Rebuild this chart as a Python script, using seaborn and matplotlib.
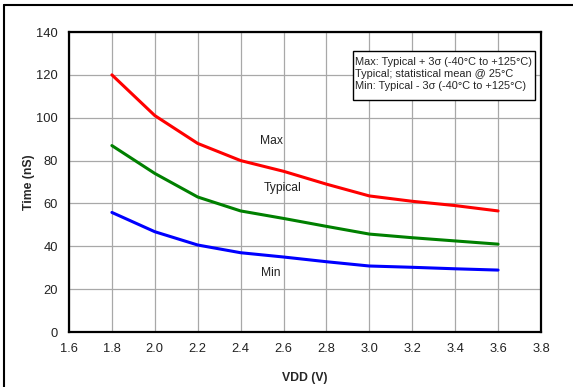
import pandas as pd
import matplotlib
matplotlib.use('Agg')
import matplotlib.pyplot as plt
from matplotlib.lines import Line2D
from matplotlib.patches import Rectangle
import seaborn as sns

# Data
vdd = [1.8, 2.0, 2.2, 2.4, 2.6, 2.8, 3.0, 3.2, 3.4, 3.6]
max_ns = [120, 101, 88, 80, 75, 69, 63.5, 61, 59, 56.5]
typical_ns = [87, 74, 63, 56.5, 53, 49.3, 45.7, 44, 42.5, 41]
min_ns = [55.8, 46.8, 40.6, 37, 35, 32.8, 30.8, 30.2, 29.5, 28.9]
series_names = ['Max', 'Typical', 'Min']
colors = ['#ff0000', '#008000', '#0000ff']
note_lines = ['Max: Typical + 3\u03c3 (-40\u00b0C to +125\u00b0C)',
              'Typical; statistical mean @ 25\u00b0C',
              'Min: Typical - 3\u03c3 (-40\u00b0C to +125\u00b0C)']

df = pd.DataFrame({
    'vdd': vdd * 3,
    'time': max_ns + typical_ns + min_ns,
    'series': [s for s in series_names for _ in vdd],
})

sns.set_style('white')
plt.rcParams['font.family'] = ['Liberation Sans', 'DejaVu Sans']

fig = plt.figure(figsize=(5.73, 3.87), dpi=100)
ax = fig.add_axes([0.1204, 0.1421, 0.8237, 0.7752])

sns.lineplot(data=df, x='vdd', y='time', hue='series', hue_order=series_names,
             palette=colors, linewidth=2.2, legend=False, ax=ax)

ax.set_xlim(1.6, 3.8)
ax.set_ylim(0, 140)
ax.set_xticks([1.6 + 0.2 * i for i in range(12)])
ax.set_xticklabels([f'{1.6 + 0.2 * i:.1f}' for i in range(12)])
ax.set_yticks(range(0, 141, 20))
ax.grid(True, color='#a8a8a8', linewidth=0.9)
ax.set_axisbelow(True)
ax.tick_params(length=0, labelsize=9.3, colors='#222222')
ax.tick_params(axis='x', pad=8)
ax.tick_params(axis='y', pad=8)
for sp in ax.spines.values():
    sp.set_color('black')
    sp.set_linewidth(1.6)

ax.set_xlabel('VDD (V)', fontsize=8.8, fontweight='bold', labelpad=12)
ax.set_ylabel('Time (nS)', fontsize=8.8, fontweight='bold', labelpad=0.5)

# curve labels
ax.text(2.546, 89, 'Max', fontsize=8.7, ha='center', va='center', color='#222222')
ax.text(2.598, 67, 'Typical', fontsize=8.7, ha='center', va='center', color='#222222')
ax.text(2.542, 27.5, 'Min', fontsize=8.7, ha='center', va='center', color='#222222')

# note box
ax.add_patch(Rectangle((0.602, 0.773), 0.386, 0.163, transform=ax.transAxes,
                       facecolor='white', edgecolor='black', linewidth=1.0, zorder=5))
ax.text(0.607, 0.918, '\n'.join(note_lines), transform=ax.transAxes, fontsize=7.9,
        ha='left', va='top', linespacing=1.25, zorder=6)

# outer frame (top and left edges)
fig.add_artist(Line2D([0.007, 1.0], [0.987, 0.987], color='black', linewidth=1.5))
fig.add_artist(Line2D([0.007, 0.007], [0.0, 0.987], color='black', linewidth=1.5))

fig.savefig('out.png', dpi=100)
